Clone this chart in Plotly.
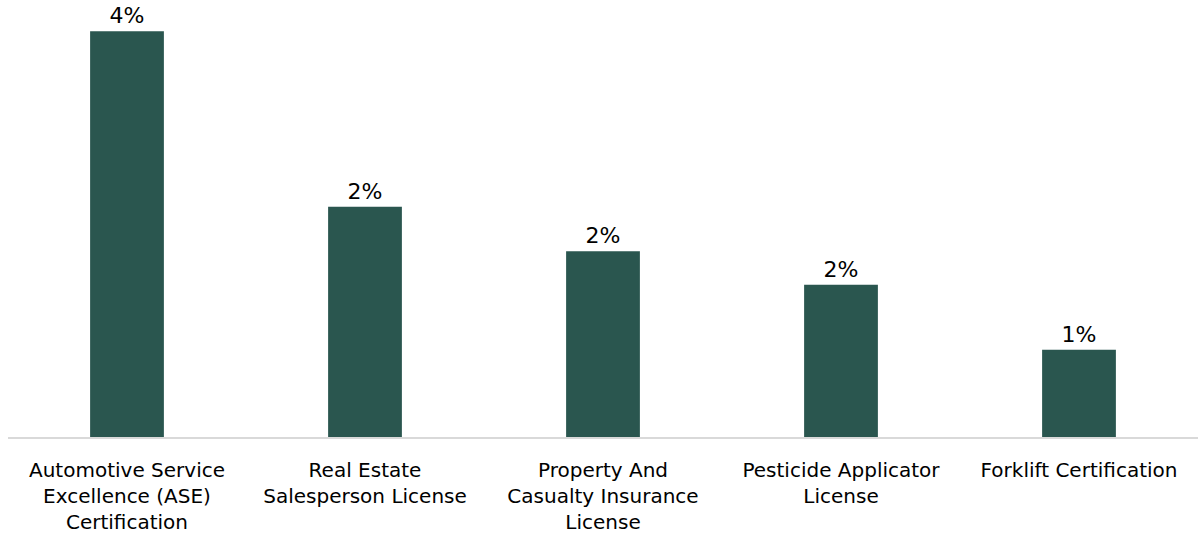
import plotly.graph_objects as go

categories = [
    "Automotive Service<br>Excellence (ASE)<br>Certification",
    "Real Estate<br>Salesperson License",
    "Property And<br>Casualty Insurance<br>License",
    "Pesticide Applicator<br>License",
    "Forklift Certification",
]
values = [0.040, 0.0227, 0.0183, 0.0150, 0.0086]
labels = ["4%", "2%", "2%", "2%", "1%"]

FONT = "DejaVu Sans"

fig = go.Figure(
    go.Bar(
        x=categories,
        y=values,
        text=labels,
        textposition="outside",
        textfont=dict(size=22, color="#000000", family=FONT),
        marker=dict(color="#2A564F", line=dict(width=0)),
        cliponaxis=False,
        width=0.31,
    )
)

fig.update_layout(
    width=1198,
    height=546,
    margin=dict(l=8, r=0, t=20, b=109, autoexpand=False),
    paper_bgcolor="white",
    plot_bgcolor="white",
    showlegend=False,
    font=dict(family=FONT, color="#000000"),
    xaxis=dict(
        showline=True,
        linecolor="#D9D9D9",
        linewidth=2,
        ticks="",
        tickfont=dict(size=20, color="#000000", family=FONT),
        ticklabelstandoff=14,
        showgrid=False,
        automargin=False,
    ),
    yaxis=dict(
        range=[0, 0.0411],
        visible=False,
        showgrid=False,
        automargin=False,
    ),
)

fig.write_html(
    "out.html",
    config={"displayModeBar": False},
    post_script="document.body.style.margin='0px';document.body.style.overflow='hidden';",
)
